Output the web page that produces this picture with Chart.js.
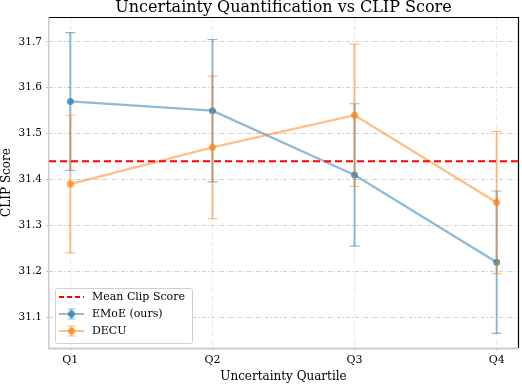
<!DOCTYPE html>
<html>
<head>
<meta charset="utf-8">
<script src="https://cdn.jsdelivr.net/npm/chart.js@4.4.1/dist/chart.umd.min.js"></script>
<style>
  html, body { margin: 0; padding: 0; background: #fff; }
  #wrap { width: 522px; height: 384px; }
</style>
</head>
<body>
<div id="wrap"><canvas id="chart"></canvas></div>
<script>
// data
const categories = ["Q1", "Q2", "Q3", "Q4"];
const emoeMean = [31.57, 31.55, 31.41, 31.22];
const emoeErr = [0.15, 0.155, 0.155, 0.155];
const decuMean = [31.39, 31.47, 31.54, 31.35];
const decuErr = [0.15, 0.155, 0.155, 0.155];
const meanClip = 31.44;
const yTicks = [31.1, 31.2, 31.3, 31.4, 31.5, 31.6, 31.7];
const titleText = "Uncertainty Quantification vs CLIP Score";

const BLUE = "31,119,180";
const ORANGE = "255,127,14";
const X_MIN = -0.15, X_MAX = 3.15;

Chart.defaults.font.family = "'DejaVu Serif', serif";
Chart.defaults.color = "#000";

const toPoints = (vals) => vals.map((v, i) => ({ x: i, y: v }));

// error bars under each series line
const errorBars = {
  id: "errorBars",
  beforeDatasetDraw(chart, args) {
    const ds = chart.data.datasets[args.index];
    if (!ds.errors) return;
    const ctx = chart.ctx;
    const xs = chart.scales.x, ys = chart.scales.y;
    ctx.save();
    ctx.strokeStyle = ds.errColor;
    ds.data.forEach((p, i) => {
      const px = xs.getPixelForValue(p.x);
      const top = ys.getPixelForValue(p.y + ds.errors[i]);
      const bot = ys.getPixelForValue(p.y - ds.errors[i]);
      ctx.lineWidth = 2;
      ctx.beginPath();
      ctx.moveTo(px, top);
      ctx.lineTo(px, bot);
      ctx.stroke();
      ctx.lineWidth = 1.2;
      ctx.beginPath();
      ctx.moveTo(px - 5, top); ctx.lineTo(px + 5, top);
      ctx.moveTo(px - 5, bot); ctx.lineTo(px + 5, bot);
      ctx.stroke();
    });
    ctx.restore();
  }
};

// spines, title, legend box
const frameAndLegend = {
  id: "frameAndLegend",
  beforeDatasetsDraw(chart) {
    const ctx = chart.ctx;
    const a = chart.chartArea;
    ctx.save();
    ctx.strokeStyle = "#cccccc";
    ctx.lineWidth = 1.5;
    ctx.beginPath();
    ctx.moveTo(a.left - 0.25, a.top);
    ctx.lineTo(a.left - 0.25, a.bottom);
    ctx.stroke();
    ctx.lineWidth = 2.2;
    ctx.beginPath();
    ctx.moveTo(a.left - 1, a.bottom + 0.5);
    ctx.lineTo(a.right, a.bottom + 0.5);
    ctx.stroke();
    ctx.restore();
  },
  afterDraw(chart) {
    const ctx = chart.ctx;
    const a = chart.chartArea;
    ctx.save();
    ctx.strokeStyle = "#000";
    ctx.lineWidth = 1.2;
    ctx.beginPath();
    ctx.moveTo(a.left, a.top + 0.5);
    ctx.lineTo(a.right + 1, a.top + 0.5);
    ctx.moveTo(a.right + 0.5, a.top);
    ctx.lineTo(a.right + 0.5, a.bottom);
    ctx.stroke();

    ctx.fillStyle = "#000";
    ctx.font = "16px 'DejaVu Serif', serif";
    ctx.textAlign = "center";
    ctx.textBaseline = "alphabetic";
    ctx.fillText(titleText, (a.left + a.right) / 2, 12);

    // legend
    const bx = a.left + 6, by = a.bottom - 60, bw = 137, bh = 55;
    ctx.fillStyle = "rgba(255,255,255,0.85)";
    ctx.strokeStyle = "#d0d0d0";
    ctx.lineWidth = 1;
    ctx.beginPath();
    ctx.roundRect(bx + 0.5, by + 0.5, bw, bh, 2);
    ctx.fill();
    ctx.stroke();

    const x0 = bx + 4, x1 = bx + 29, xm = (x0 + x1) / 2;
    const rows = [by + 9, by + 26, by + 43];
    ctx.font = "11px 'DejaVu Serif', serif";
    ctx.textBaseline = "middle";
    ctx.textAlign = "left";

    ctx.strokeStyle = "red";
    ctx.lineWidth = 2;
    ctx.setLineDash([5, 3]);
    ctx.beginPath();
    ctx.moveTo(x0, rows[0]); ctx.lineTo(x1, rows[0]);
    ctx.stroke();
    ctx.setLineDash([]);
    ctx.fillStyle = "#000";
    ctx.fillText("Mean Clip Score", bx + 37, rows[0]);

    [[BLUE, "EMoE (ours)", rows[1]], [ORANGE, "DECU", rows[2]]].forEach(([c, label, y]) => {
      ctx.strokeStyle = `rgba(${c},0.5)`;
      ctx.lineWidth = 2.2;
      ctx.beginPath();
      ctx.moveTo(x0, y); ctx.lineTo(x1, y);
      ctx.moveTo(xm, y - 5); ctx.lineTo(xm, y + 5);
      ctx.stroke();
      ctx.lineWidth = 1.2;
      ctx.beginPath();
      ctx.moveTo(xm - 4, y - 5); ctx.lineTo(xm + 4, y - 5);
      ctx.moveTo(xm - 4, y + 5); ctx.lineTo(xm + 4, y + 5);
      ctx.stroke();
      ctx.fillStyle = `rgba(${c},0.7)`;
      ctx.beginPath();
      ctx.arc(xm, y, 3.5, 0, Math.PI * 2);
      ctx.fill();
      ctx.fillStyle = "#000";
      ctx.fillText(label, bx + 37, y);
    });
    ctx.restore();
  }
};

const gridOpts = (color) => ({
  color: color,
  lineWidth: 0.8,
  tickLength: 3,
  tickColor: "#bbb",
  tickBorderDash: []
});

new Chart(document.getElementById("chart"), {
  type: "line",
  data: {
    datasets: [
      {
        label: "Mean Clip Score",
        data: [{ x: X_MIN, y: meanClip }, { x: X_MAX, y: meanClip }],
        borderColor: "red",
        borderWidth: 2,
        borderDash: [7, 4],
        pointRadius: 0,
        order: 0
      },
      {
        label: "DECU",
        data: toPoints(decuMean),
        errors: decuErr,
        errColor: `rgba(${ORANGE},0.5)`,
        borderColor: `rgba(${ORANGE},0.5)`,
        borderWidth: 2.3,
        pointRadius: 3.5,
        pointBorderWidth: 0,
        pointBackgroundColor: `rgba(${ORANGE},0.7)`,
        order: 1
      },
      {
        label: "EMoE (ours)",
        data: toPoints(emoeMean),
        errors: emoeErr,
        errColor: `rgba(${BLUE},0.5)`,
        borderColor: `rgba(${BLUE},0.5)`,
        borderWidth: 2.3,
        pointRadius: 3.5,
        pointBorderWidth: 0,
        pointBackgroundColor: `rgba(${BLUE},0.7)`,
        order: 2
      }
    ]
  },
  options: {
    responsive: true,
    maintainAspectRatio: false,
    animation: false,
    layout: { padding: { top: 17, right: 1, left: 0, bottom: 0 } },
    plugins: {
      legend: { display: false },
      tooltip: { enabled: false },
      title: { display: false }
    },
    scales: {
      x: {
        type: "linear",
        min: X_MIN,
        max: X_MAX,
        afterBuildTicks: (s) => { s.ticks = categories.map((c, i) => ({ value: i })); },
        afterFit: (s) => { s.height = 36; },
        ticks: {
          callback: (v) => categories[v],
          font: { size: 11 },
          padding: 3,
          maxRotation: 0
        },
        grid: gridOpts("rgba(200,200,200,0.55)"),
        border: { display: false, dash: [4, 2, 1, 2] },
        title: {
          display: true,
          text: "Uncertainty Quartile",
          font: { size: 12 },
          padding: { top: 0, bottom: 0 }
        }
      },
      y: {
        min: 31.033,
        max: 31.754,
        afterBuildTicks: (s) => { s.ticks = yTicks.map((v) => ({ value: v })); },
        afterFit: (s) => { s.width = 49; },
        ticks: {
          callback: (v) => v.toFixed(1),
          font: { size: 10.5 },
          padding: 4
        },
        grid: gridOpts("#c2c2c2"),
        border: { display: false, dash: [4, 2, 1, 2] },
        title: {
          display: true,
          text: "CLIP Score",
          font: { size: 12 },
          padding: { top: 0, bottom: 0 }
        }
      }
    }
  },
  plugins: [errorBars, frameAndLegend]
});
</script>
</body>
</html>
